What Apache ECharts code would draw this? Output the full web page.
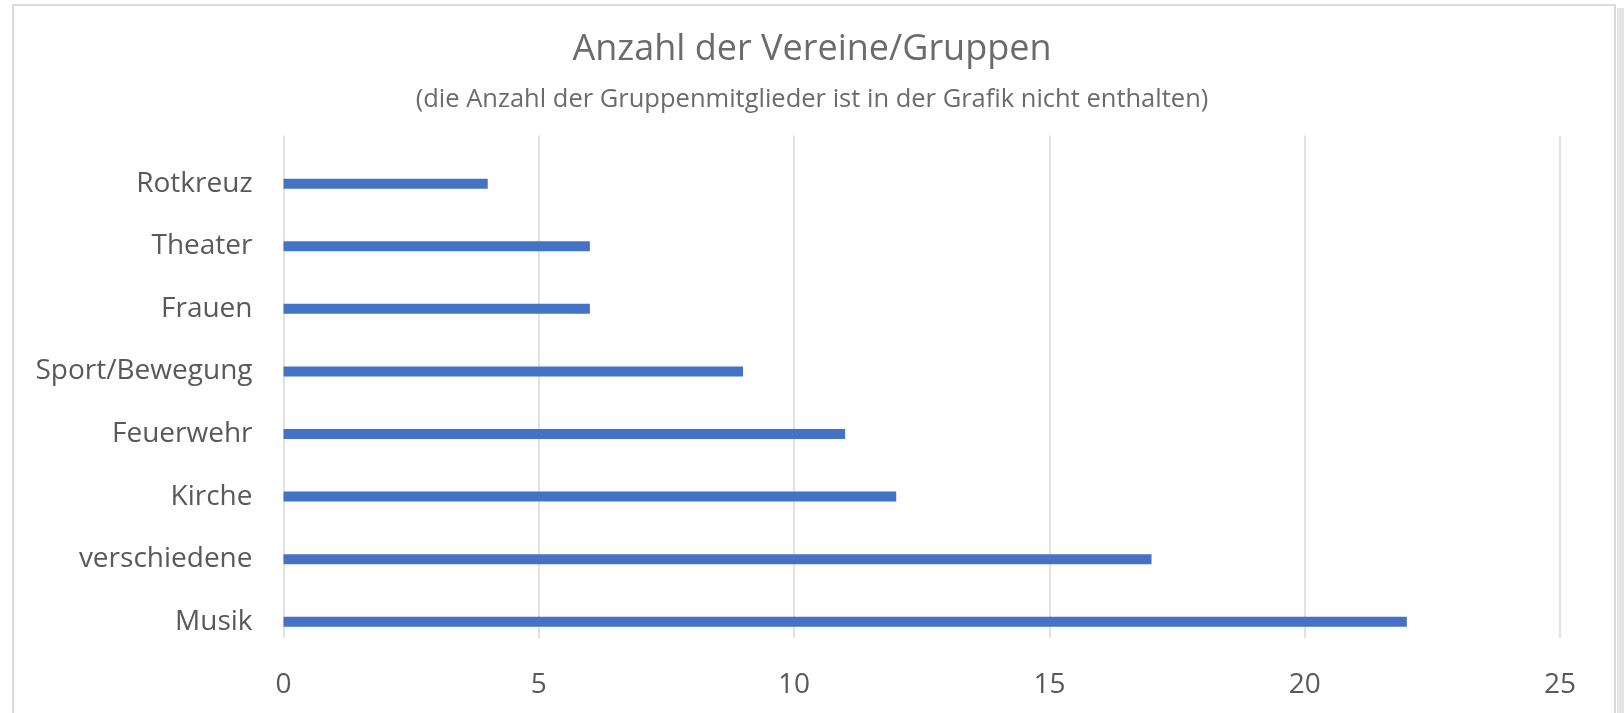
<!DOCTYPE html>
<html>
<head>
<meta charset="utf-8">
<script src="https://cdn.jsdelivr.net/npm/echarts@6/dist/echarts.min.js"></script>
<style>
  html, body { margin: 0; padding: 0; background: #fff; }
  #chart { width: 1624px; height: 713px; }
</style>
</head>
<body>
<div id="chart"></div>
<script>
// Kategorien von unten nach oben
var categories = ['Musik', 'verschiedene', 'Kirche', 'Feuerwehr', 'Sport/Bewegung', 'Frauen', 'Theater', 'Rotkreuz'];
var anzahl = [22, 17, 12, 11, 9, 6, 6, 4];
var xTicks = [0, 5, 10, 15, 20, 25];

var titleText = 'Anzahl der Vereine/Gruppen';
var subText = '(die Anzahl der Gruppenmitglieder ist in der Grafik nicht enthalten)';

var fontFam = 'Open Sans';

var myChart = echarts.init(document.getElementById('chart'));
myChart.setOption({
    backgroundColor: '#fff',
    animation: false,
    title: [{
        text: titleText,
        left: 'center',
        top: 27,
        textStyle: { fontFamily: fontFam, fontSize: 36, fontWeight: 'normal', color: '#6b6b6b' }
    }, {
        text: subText,
        left: 'center',
        top: 82,
        textStyle: { fontFamily: fontFam, fontSize: 25.5, fontWeight: 'normal', color: '#6b6b6b' }
    }],
    graphic: [{
        type: 'rect',
        shape: { x: 13, y: 5, width: 1602, height: 740 },
        style: { fill: 'none', stroke: '#dadada', lineWidth: 2 },
        silent: true
    }, {
        type: 'rect',
        shape: { x: 1617, y: 8, width: 7, height: 713 },
        style: { fill: '#e4e4e4' },
        silent: true
    }],
    // grid 0: Balken, grid 1: Gitterlinien und Achsenbeschriftung
    grid: [
        { left: 283.5, right: 64, top: 152.4, bottom: 60 },
        { left: 283.5, right: 64, top: 135.5, bottom: 75 }
    ],
    xAxis: [{
        type: 'value',
        gridIndex: 0,
        min: xTicks[0],
        max: xTicks[xTicks.length - 1],
        interval: 5,
        show: false
    }, {
        type: 'value',
        gridIndex: 1,
        min: xTicks[0],
        max: xTicks[xTicks.length - 1],
        interval: 5,
        axisLine: { show: false },
        axisTick: { show: false },
        axisLabel: { margin: 33, fontFamily: fontFam, fontSize: 28, color: '#595959' },
        splitLine: { show: true, lineStyle: { color: '#d9d9d9', width: 1.5 } }
    }],
    yAxis: [{
        type: 'category',
        gridIndex: 0,
        data: categories,
        axisLine: { show: false },
        axisTick: { show: false },
        axisLabel: { margin: 31, fontFamily: fontFam, fontSize: 28, color: '#595959' },
        splitLine: { show: false }
    }, {
        type: 'category',
        gridIndex: 1,
        data: categories,
        show: false
    }],
    series: [{
        type: 'bar',
        xAxisIndex: 0,
        yAxisIndex: 0,
        data: anzahl,
        barWidth: 10,
        itemStyle: { color: '#4472c4' }
    }]
});
</script>
</body>
</html>
